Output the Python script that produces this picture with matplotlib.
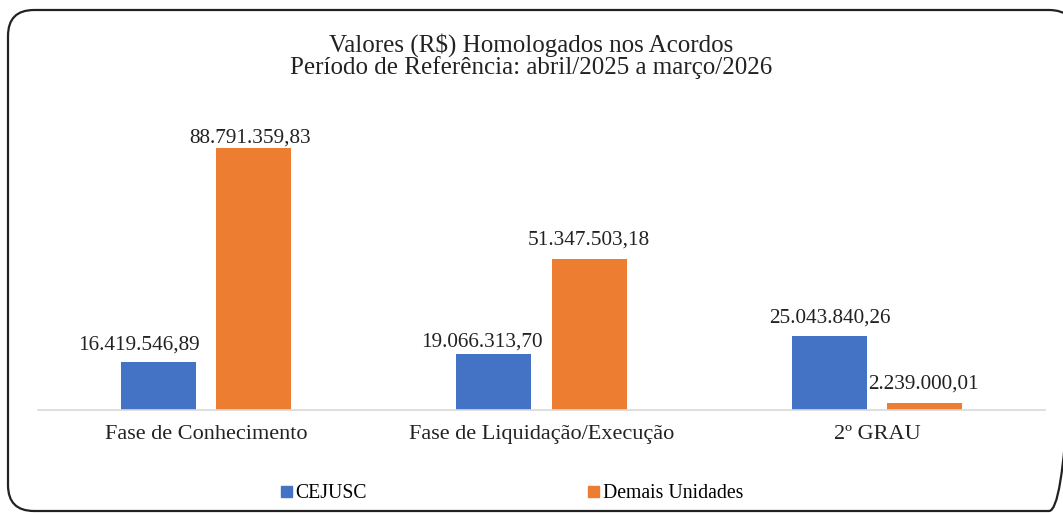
import matplotlib
matplotlib.use("Agg")
import matplotlib.pyplot as plt
from matplotlib.patches import FancyBboxPatch, Patch
import numpy as np

plt.rcParams["font.family"] = ["Liberation Serif", "DejaVu Serif"]

categories = ["Fase de Conhecimento", "Fase de Liquidação/Execução", "2º GRAU"]
cejusc = [16419546.89, 19066313.70, 25043840.26]
demais = [88791359.83, 51347503.18, 2239000.01]
series_names = ["CEJUSC", "Demais Unidades"]
colors = ["#4472C4", "#ED7D31"]

# label nudges (pixels): the original has hand-placed data labels
nudge_cejusc = [(-19, 12), (-12, 7), (0, 14)]
nudge_demais = [(-3, 6), (0, 14), (-1, 15)]


def fmt_br(v):
    s = "{:,.2f}".format(v)
    return s.replace(",", "X").replace(".", ",").replace("X", ".")


W, H = 1063, 513
fig = plt.figure(figsize=(W / 100, H / 100), dpi=100)

# background axes in pixel units for the rounded frame
bg = fig.add_axes([0, 0, 1, 1])
bg.set_xlim(0, W)
bg.set_ylim(H, 0)
bg.axis("off")
bg.add_patch(FancyBboxPatch((8, 10), 1067, 501,
                            boxstyle="round,pad=0,rounding_size=26",
                            fill=False, edgecolor="#222222", linewidth=1.6,
                            clip_on=False))

ax = fig.add_axes([38 / W, 103 / H, 1007 / W, 295 / H])

x = np.arange(len(categories))
w = 0.224
gap = 0.06
b1 = ax.bar(x - (w + gap) / 2, cejusc, w, color=colors[0])
b2 = ax.bar(x + (w + gap) / 2, demais, w, color=colors[1])

for bars, vals, nudges in [(b1, cejusc, nudge_cejusc), (b2, demais, nudge_demais)]:
    for bar, v, (dx, dy) in zip(bars, vals, nudges):
        ax.annotate(fmt_br(v), (bar.get_x() + bar.get_width() / 2, v),
                    xytext=(dx * 0.72, dy * 0.72), textcoords="offset points",
                    ha="center", va="baseline", fontsize=15.3, color="#222222")

ax.set_xlim(-0.5, 2.5)
ax.set_ylim(0, 100e6)
ax.set_yticks([])
ax.set_xticks(x)
ax.set_xticklabels(categories, fontsize=16, color="#222222")
ax.tick_params(axis="x", length=0, pad=11)
for s in ["top", "right", "left"]:
    ax.spines[s].set_visible(False)
ax.spines["bottom"].set_color("#d9d9d9")
ax.spines["bottom"].set_linewidth(1.2)

fig.text(0.5, 1 - 52 / H, "Valores (R$) Homologados nos Acordos",
         ha="center", va="baseline", fontsize=18, color="#222222")
fig.text(0.5, 1 - 74 / H, "Período de Referência: abril/2025 a março/2026",
         ha="center", va="baseline", fontsize=18, color="#222222")

handles = [Patch(color=c) for c in colors]
fig.legend(handles, series_names, loc="center", bbox_to_anchor=(0.4817, 1 - 494 / H),
           ncol=2, frameon=False, fontsize=14.2, handlelength=0.55, handleheight=0.55,
           handletextpad=0.2, columnspacing=11.2)

fig.savefig("out.png", dpi=100)
